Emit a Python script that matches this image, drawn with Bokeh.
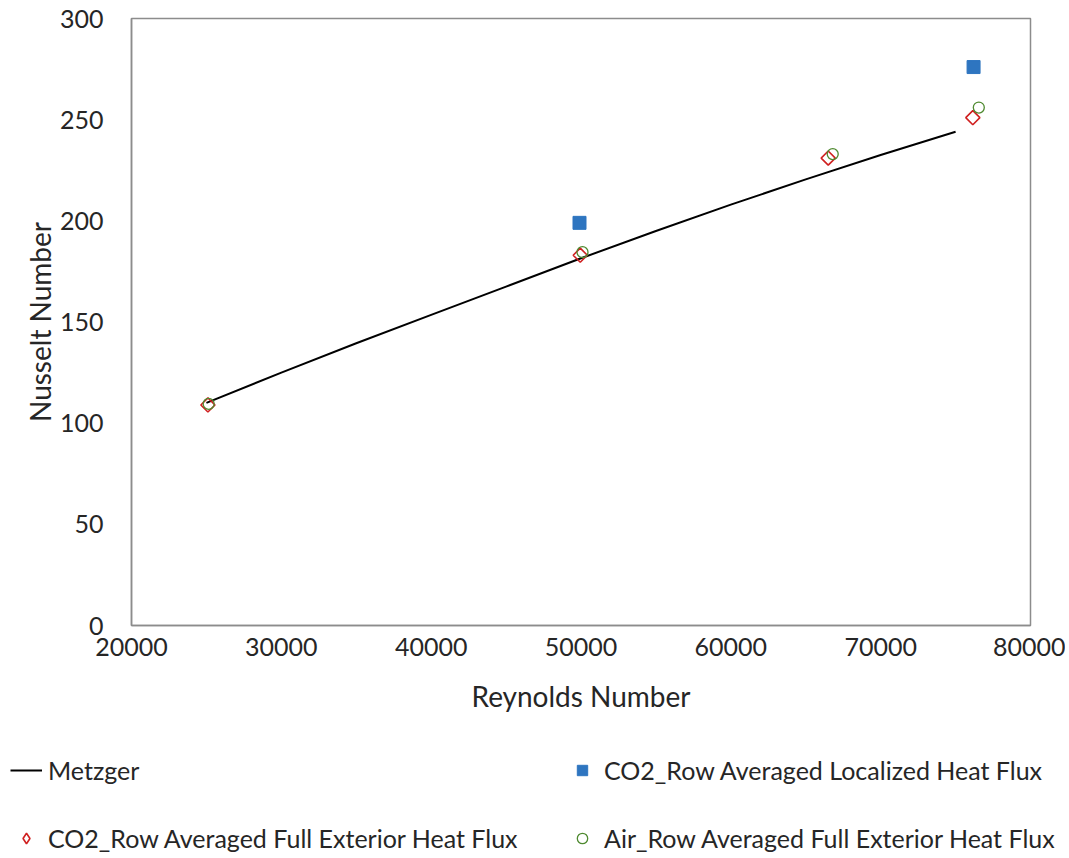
from bokeh.plotting import figure
from bokeh.layouts import column
from bokeh.models import Legend, LegendItem, Range1d, FixedTicker
from bokeh.embed import file_html
from bokeh.resources import INLINE

FONT = "Lato"
TXT = "#262626"

# Metzger correlation curve
metzger_re = [25000, 30000, 35000, 40000, 45000, 50000, 55000, 60000, 65000, 70000, 75000]
metzger_nu = [110, 125, 139.5, 153.5, 167.5, 181.5, 195, 208, 220.5, 232.5, 244]

# CO2 row averaged localized heat flux
loc_re = [49900, 76200]
loc_nu = [199, 276]

# CO2 row averaged full exterior heat flux
co2_re = [25100, 49950, 66500, 76150]
co2_nu = [109, 183, 231, 251]

# Air row averaged full exterior heat flux
air_re = [25150, 50100, 66800, 76550]
air_nu = [109.5, 184.5, 233, 256]

x_ticks = [20000, 30000, 40000, 50000, 60000, 70000, 80000]
y_ticks = [0, 50, 100, 150, 200, 250, 300]

labels = ["Metzger",
          "CO2_Row Averaged Localized Heat Flux",
          "CO2_Row Averaged Full Exterior Heat Flux",
          "Air_Row Averaged Full Exterior Heat Flux"]

W = 1065
p = figure(width=W, height=755, output_backend="svg", toolbar_location=None,
           x_range=Range1d(20000, 80000), y_range=Range1d(0, 300),
           min_border_left=131, min_border_right=W - 1030, min_border_top=18,
           min_border_bottom=130)
p.frame_align = False

p.xgrid.visible = False
p.ygrid.visible = False
p.outline_line_color = "#8c8c8c"
p.outline_line_width = 1.5

for ax in (p.xaxis[0], p.yaxis[0]):
    ax.axis_line_color = "#8c8c8c"
    ax.axis_line_width = 1.5
    ax.major_tick_line_color = None
    ax.minor_tick_line_color = None
    ax.major_label_text_font = FONT
    ax.major_label_text_font_size = "25px"
    ax.major_label_text_color = TXT
    ax.axis_label_text_font = FONT
    ax.axis_label_text_font_size = "28px"
    ax.axis_label_text_font_style = "normal"
    ax.axis_label_text_color = TXT

p.xaxis.ticker = FixedTicker(ticks=x_ticks)
p.yaxis.ticker = FixedTicker(ticks=y_ticks)
p.xaxis.axis_label = "Reynolds Number"
p.yaxis.axis_label = "Nusselt Number"
p.xaxis.major_label_standoff = 6
p.yaxis.major_label_standoff = 22
p.xaxis.axis_label_standoff = 20
p.yaxis.axis_label_standoff = 0

line_kw = dict(line_color="black", line_width=2)
loc_kw = dict(marker="square", size=13, fill_color="#2e75c0", line_color="#2e75c0")
co2_kw = dict(marker="square", size=10, angle=0.7854, fill_color=None,
              line_color="#d02020", line_width=1.6)
air_kw = dict(marker="circle", size=11, fill_color=None, line_color="#4f8a30", line_width=1.3)

p.line(metzger_re, metzger_nu, **line_kw)
p.scatter(loc_re, loc_nu, **loc_kw)
p.scatter(co2_re, co2_nu, **co2_kw)
p.scatter(air_re, air_nu, **air_kw)

# legend panel below the chart (its own data sit outside its visible range)
lg = figure(width=W, height=100, output_backend="svg", toolbar_location=None,
            x_range=Range1d(0, 1), y_range=Range1d(0, 1),
            min_border=0, outline_line_color=None)
lg.frame_align = False
lg.axis.visible = False
lg.grid.visible = False
g_line = lg.line(metzger_re, metzger_nu, **line_kw)
g_loc = lg.scatter(loc_re, loc_nu, **loc_kw)
g_co2 = lg.scatter(co2_re, co2_nu, marker="diamond", size=14, fill_color=None,
                   line_color="#d02020", line_width=1.6)
g_air = lg.scatter(air_re, air_nu, **air_kw)

# ncols fills column by column
legend = Legend(items=[
    LegendItem(label=labels[0], renderers=[g_line]),
    LegendItem(label=labels[2], renderers=[g_co2]),
    LegendItem(label=labels[1], renderers=[g_loc]),
    LegendItem(label=labels[3], renderers=[g_air]),
], ncols=2, location=(10, 2), border_line_color=None, background_fill_alpha=0,
    label_text_font=FONT, label_text_font_size="25px", label_text_color=TXT,
    glyph_width=32, glyph_height=26, label_standoff=6, spacing=38,
    label_width=480, margin=0, padding=0)
lg.add_layout(legend, "center")

open("out.html", "w").write(file_html(column(p, lg, spacing=0), INLINE))
